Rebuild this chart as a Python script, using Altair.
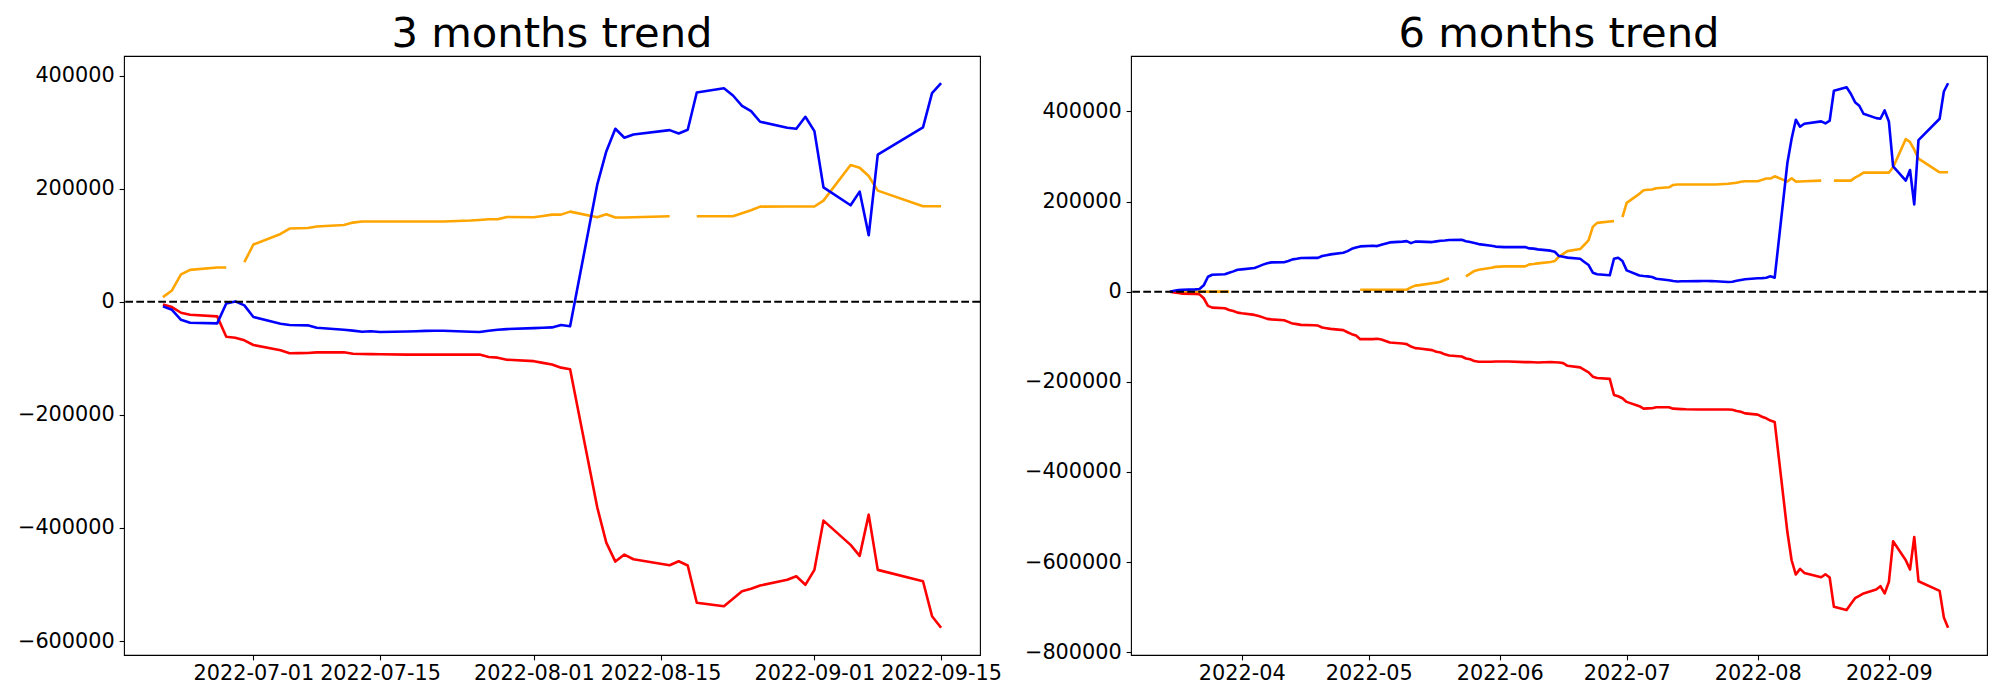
import altair as alt
import pandas as pd

# ---------------- 3 months panel ----------------
L_DATES = ["2022-06-21", "2022-06-22", "2022-06-23", "2022-06-24", "2022-06-27", "2022-06-28",
           "2022-06-29", "2022-06-30", "2022-07-01", "2022-07-04", "2022-07-05", "2022-07-06",
           "2022-07-07", "2022-07-08", "2022-07-11", "2022-07-12", "2022-07-13", "2022-07-14",
           "2022-07-15", "2022-07-18", "2022-07-19", "2022-07-20", "2022-07-21", "2022-07-22",
           "2022-07-25", "2022-07-26", "2022-07-27", "2022-07-28", "2022-07-29", "2022-08-01",
           "2022-08-02", "2022-08-03", "2022-08-04", "2022-08-05", "2022-08-08", "2022-08-09",
           "2022-08-10", "2022-08-11", "2022-08-12", "2022-08-16", "2022-08-17", "2022-08-18",
           "2022-08-19", "2022-08-22", "2022-08-23", "2022-08-24", "2022-08-25", "2022-08-26",
           "2022-08-29", "2022-08-30", "2022-08-31", "2022-09-01", "2022-09-02", "2022-09-05",
           "2022-09-06", "2022-09-07", "2022-09-08", "2022-09-13", "2022-09-14", "2022-09-15"]

L_BLUE = [-8100, -14100, -31800, -37100, -38200, -2900, 700, -6400, -27000, -38800,
          -41100, -41500, -41700, -45900, -49400, -51000, -53000, -52000, -53500, -52500,
          -52000, -51500, -51300, -51200, -53000, -53500, -51200, -49500, -48300, -46500,
          -46000, -45300, -41100, -43400, 207200, 266000, 306100, 290200, 296000, 303600,
          297800, 304300, 370200, 377800, 364900, 346700, 337200, 318500, 307900, 306100,
          327300, 301900, 202500, 170700, 194900, 117700, 260200, 308400, 369000, 386600]

L_RED = [-4700, -9400, -19400, -23000, -25800, -61800, -63500, -68100, -76400, -85800,
         -91100, -90800, -90500, -89400, -89400, -91800, -92300, -92500, -92900, -93400,
         -93400, -93400, -93400, -93400, -93400, -93400, -97600, -98800, -102400, -105000,
         -108000, -111000, -116500, -119300, -363600, -425900, -459500, -447100, -455400, -466000,
         -458900, -466500, -532400, -538400, -525300, -511900, -507700, -501900, -491800, -485400,
         -500600, -474200, -387100, -430000, -449400, -376500, -474200, -494300, -556100, -576600]

L_ORANGE = [8300, 20100, 48400, 56500, 60700, 60700, None, 70100, 101300, 120000,
            129600, 130000, 130600, 133100, 135900, 140100, 141900, 142000, 142000, 142000,
            142000, 142000, 142000, 142000, 143800, 144800, 146000, 146000, 150000, 149500,
            151800, 154200, 154200, 159500, 149500, 154800, 149000, 149000, 149500, 151300,
            None, None, 151300, 151300, 151300, 156500, 161900, 168400, 168600, 168600,
            168600, 168600, 179000, 241900, 237200, 222400, 196600, 168900, 168900, 168900]

L_TICKS_X = ["2022-07-01", "2022-07-15", "2022-08-01", "2022-08-15", "2022-09-01", "2022-09-15"]
L_TICKS_Y = [-600000, -400000, -200000, 0, 200000, 400000]

# ---------------- 6 months panel ----------------
R_DAYS = {
    3: [15, 16, 17, 18, 21, 22, 23, 24, 25, 28, 29, 30, 31],
    4: [1, 4, 5, 6, 7, 8, 11, 12, 13, 14, 15, 18, 19, 20, 21, 22, 25, 26, 27, 28, 29],
    5: [2, 3, 4, 6, 9, 10, 11, 12, 13, 16, 17, 18, 19, 20, 23, 24, 25, 26, 27, 30, 31],
    6: [2, 3, 7, 8, 9, 10, 13, 14, 15, 16, 17, 20, 21, 22, 23, 24, 27, 28, 29, 30],
    7: [1, 4, 5, 6, 7, 8, 11, 12, 13, 14, 15, 18, 19, 20, 21, 22, 25, 26, 27, 28, 29],
    8: [1, 2, 3, 4, 5, 8, 9, 10, 11, 12, 16, 17, 18, 19, 22, 23, 24, 25, 26, 29, 30, 31],
    9: [1, 2, 5, 6, 7, 8, 13, 14, 15],
}

R_BLUE = (
    [0, 2000, 3500, 4400, 5000, 6000, 14100, 33200, 37600, 38500, 42000, 45000, 48700]
    + [49500, 52400, 56200, 60000, 63000, 65000, 65400, 68000, 71700, 73000, 74600, 75000,
       75000, 79000, 81000, 82700, 86300, 90000, 95100, 98000, 100400]
    + [101800, 101100, 104000, 109300, 111000, 112200, 107700, 111000, 111000, 110000, 111500,
       112800, 113500, 114500, 115000, 112000, 110000, 108000, 105500, 101800, 100000]
    + [98900, 98900, 98900, 96000, 95500, 93800, 91000, 88500, 79000, 77500, 75500, 73000,
       66000, 59100, 42000, 38500, 36300, 73000, 75200, 67900]
    + [47300, 36000, 34700, 34000, 32500, 28800, 25500, 23700, 22500, 23000, 23000, 23500,
       23700, 23700, 23500, 23000, 21500, 22000, 24000, 26000, 27500]
    + [29600, 30000, 31000, 34000, 31000, 285400, 339300, 381400, 365900, 372600, 377700,
       373200, 379200, 445600, 453500, 439000, 420400, 412400, 394700, 385000, 383600, 402000]
    + [377700, 278100, 246400, 269900, 193400, 336300, 383600, 444000, 462400]
)

R_RED = (
    [0, -1500, -3000, -4400, -5000, -5900, -14600, -31600, -35400, -36700, -40500, -43000, -46500]
    + [-48000, -51500, -54000, -57000, -60400, -61500, -63300, -67000, -70800, -72000, -73700,
       -74500, -75200, -79600, -81000, -82500, -85400, -90000, -94300, -97300, -105300]
    + [-105300, -104600, -106000, -112800, -115000, -116400, -121700, -125200, -126000, -129600,
       -133400, -135000, -139000, -141600, -143800, -148200, -150000, -154000, -155500, -155500,
       -155000]
    + [-154900, -155000, -156200, -156000, -156500, -157100, -156000, -156600, -157100, -158500,
       -164400, -168000, -173500, -179000, -188500, -191500, -193500, -229000, -232000, -236500]
    + [-244500, -254000, -259500, -259000, -258500, -256500, -256500, -259500, -260000, -260500,
       -261000, -261500, -261500, -261500, -261500, -261500, -261500, -262000, -264500, -266500,
       -270000]
    + [-272800, -277500, -281000, -286000, -289000, -533200, -595800, -627500, -615000, -623900,
       -633400, -626800, -634100, -699100, -706400, -693100, -679900, -674800, -669500, -660600,
       -653300, -669500]
    + [-643800, -553800, -595800, -616400, -544200, -642300, -663700, -722600, -745600]
)

R_ORANGE = (
    [0, 0, 0, 0, 0, 0, 0, 0, 0, 0, 0, None, None]
    + [None] * 20 + [4400]
    + [4400, 4400, 4400, 4400, 4400, 4400, 9500, 13500, 14600, 18600, 20000, 22100, 26000,
       29600, None, 34000, 40000, 46000, 48700, 53100, 55000]
    + [56200, 56200, 56200, 60600, 61500, 62800, 66000, 67900, 78000, 84000, 90000, 94500,
       104000, 114400, 143800, 152700, 155500, 156400, None, 165300]
    + [196900, 217000, 225000, 226000, 226500, 229400, 231600, 236700, 237800, 237800, 237800,
       237800, 237800, 237800, 237800, 237800, 239500, 240500, 241500, 244000, 244900]
    + [244900, 248000, 250900, 250900, 256000, 244200, 251500, 244200, 244500, 245000, 246400,
       None, None, 246400, 246400, 246400, 253000, 258000, 264100, 264100, 264100, 264100]
    + [264100, 275900, 338500, 331900, 315000, 295100, 264800, 264800, 264800]
)

R_DATES = [f"2022-{m:02d}-{d:02d}" for m, days in R_DAYS.items() for d in days]

R_TICKS_X = ["2022-04-01", "2022-05-01", "2022-06-01", "2022-07-01", "2022-08-01", "2022-09-01"]
R_TICKS_Y = [-800000, -600000, -400000, -200000, 0, 200000, 400000]

COLORS = {"blue": "#0000ff", "red": "#ff0000", "orange": "#ffa500"}

FONT = "DejaVu Sans"
TICK_FS = 20.8
TITLE_FS = 41.7
PANEL_W = 856
PANEL_H = 599


def ms(s):
    return int(pd.Timestamp(s, tz="UTC").value // 10**6)


def segments(name, dates, vals):
    rows, seg = [], 0
    for d, v in zip(dates, vals):
        if v is None:
            seg += 1
            continue
        rows.append({"date": d, "value": v, "seg": f"{name}-{seg}"})
    return pd.DataFrame(rows)


def panel(title, dates, blue, red, orange, xticks, yticks, xfmt):
    allv = [v for s in (blue, red, orange) for v in s if v is not None]
    vmin, vmax = min(allv), max(allv)
    ypad = 0.05 * (vmax - vmin)
    t0, t1 = ms(dates[0]), ms(dates[-1])
    xpad = 0.05 * (t1 - t0)

    xenc = alt.X(
        "date:T",
        scale=alt.Scale(type="utc", domain=[t0 - xpad, t1 + xpad], nice=False),
        axis=alt.Axis(values=[ms(t) for t in xticks],
                      labelExpr=f"utcFormat(datum.value, '{xfmt}')",
                      title=None, grid=False, labelAngle=0, tickSize=4.86,
                      labelPadding=4.0, labelFlush=False, labelOverlap=False,
                      labelFontSize=TICK_FS, labelFont=FONT, labelColor="black",
                      tickColor="black", tickWidth=1.1, domain=False),
    )
    yenc = alt.Y(
        "value:Q",
        scale=alt.Scale(domain=[vmin - ypad, vmax + ypad], nice=False, zero=False),
        axis=alt.Axis(values=yticks, format="d", title=None, grid=False, tickSize=4.86,
                      labelPadding=4.86, labelFlush=False, labelOverlap=False,
                      labelFontSize=TICK_FS, labelFont=FONT, labelColor="black",
                      tickColor="black", tickWidth=1.1, domain=False,
                      labelExpr="replace(datum.label, '-', '\u2212')"),
    )

    layers = []
    for name, vals in (("orange", orange), ("red", red), ("blue", blue)):
        df = segments(name, dates, vals)
        layers.append(
            alt.Chart(df).mark_line(color=COLORS[name], strokeWidth=2.6, strokeJoin="round",
                                    clip=True)
            .encode(x=xenc, y=yenc, detail="seg:N")
        )
    zero = alt.Chart(pd.DataFrame({"value": [0]})).mark_rule(
        color="black", strokeWidth=2.0, strokeDash=[7.7, 3.3]
    ).encode(y="value:Q")
    layers.append(zero)

    return alt.layer(*layers).properties(
        width=PANEL_W, height=PANEL_H,
        title=alt.TitleParams(title, fontSize=TITLE_FS, font=FONT, fontWeight="normal",
                              color="black", anchor="middle", offset=0),
    )


left = panel("3 months trend", L_DATES, L_BLUE, L_RED, L_ORANGE, L_TICKS_X, L_TICKS_Y, "%Y-%m-%d")
right = panel("6 months trend", R_DATES, R_BLUE, R_RED, R_ORANGE, R_TICKS_X, R_TICKS_Y, "%Y-%m")

chart = (
    alt.hconcat(left, right, spacing=151, bounds="flush")
    .properties(padding={"left": 8, "top": 5, "right": 0, "bottom": 0}, background="white")
    .configure_view(stroke="black", strokeWidth=1.1)
)

chart.save("out.html", embed_options={"renderer": "svg", "actions": False})
